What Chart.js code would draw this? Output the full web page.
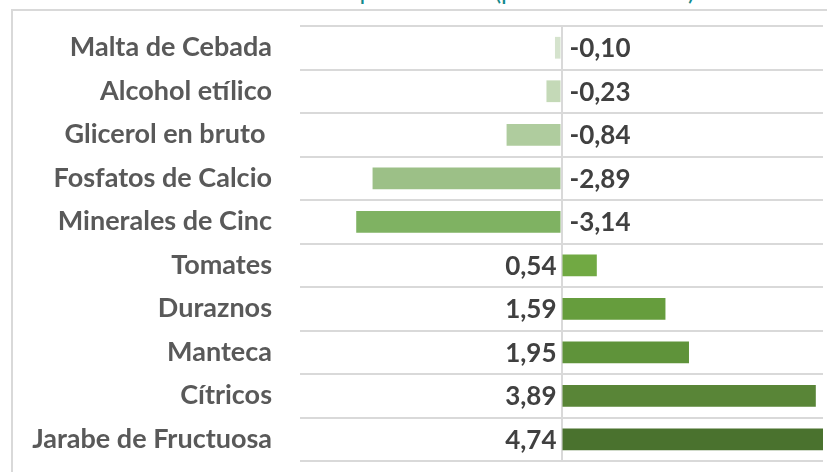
<!DOCTYPE html>
<html>
<head>
<meta charset="utf-8">
<script src="https://cdn.jsdelivr.net/npm/chart.js@4/dist/chart.umd.min.js"></script>
<style>
  html, body { margin:0; padding:0; width:827px; height:472px; overflow:hidden; background:#fff; }
  #frame { position:absolute; left:11px; top:9px; width:900px; height:520px; border:2px solid #d9d9d9; box-sizing:border-box; }
  #title { position:absolute; left:0; width:852px; top:-25px; text-align:center; font-family:Lato, sans-serif; font-size:25px; line-height:30px; color:#138a8c; white-space:nowrap; }
  #wrap { position:absolute; left:0; top:0; width:827px; height:472px; }
</style>
</head>
<body>
<div id="title">Variación de las exportaciones (período de enero)</div>
<div id="frame"></div>
<div id="wrap"><canvas id="c" width="827" height="472"></canvas></div>
<script>
const categories = ["Malta de Cebada","Alcohol etílico","Glicerol en bruto ","Fosfatos de Calcio","Minerales de Cinc","Tomates","Duraznos","Manteca","Cítricos","Jarabe de Fructuosa"];
const values = [-0.10, -0.23, -0.84, -2.89, -3.14, 0.54, 1.59, 1.95, 3.89, 4.74];
const barColors = ["#d5e3cd","#c4d9b7","#afcc9e","#9cc087","#7fb262","#71a943","#669d3d","#5f933a","#598537","#4a722e"];
const axisMin = -4, axisMax = 4;

const labelFont = "bold 26px Lato, sans-serif";

const dataLabels = {
  id: 'dataLabels',
  afterDatasetsDraw(chart) {
    const ctx = chart.ctx;
    const meta = chart.getDatasetMeta(0);
    const x0 = chart.scales.x.getPixelForValue(0);
    ctx.save();
    ctx.font = labelFont;
    ctx.fillStyle = "#404040";
    ctx.textBaseline = "middle";
    meta.data.forEach((bar, i) => {
      const v = values[i];
      const txt = v.toFixed(2).replace('.', ',');
      if (v < 0) { ctx.textAlign = "left"; ctx.fillText(txt, x0 + 8, bar.y + 1); }
      else { ctx.textAlign = "right"; ctx.fillText(txt, x0 - 5, bar.y + 1); }
    });
    ctx.restore();
  }
};

new Chart(document.getElementById('c'), {
  type: 'bar',
  data: {
    labels: categories,
    datasets: [{ data: values, backgroundColor: barColors, borderWidth: 0, barPercentage: 0.5, categoryPercentage: 1.0 }]
  },
  options: {
    indexAxis: 'y',
    responsive: false,
    animation: false,
    devicePixelRatio: 1,
    layout: { padding: { top: 26, bottom: 11, left: 0, right: 4 } },
    plugins: { legend: { display: false }, tooltip: { enabled: false }, title: { display: false } },
    scales: {
      x: {
        min: axisMin, max: axisMax,
        ticks: { display: false },
        border: { display: false },
        grid: { drawTicks: false, lineWidth: 2, color: (c) => (c.tick && c.tick.value === 0) ? '#d9d9d9' : 'rgba(0,0,0,0)' },
        afterFit(s) { s.height = 0; s.paddingLeft = 0; s.paddingRight = 0; s.paddingTop = 0; s.paddingBottom = 0; }
      },
      y: {
        ticks: { padding: 28, color: '#595959', font: { family: 'Lato, sans-serif', size: 27, weight: 'bold' } },
        border: { display: false },
        grid: { drawTicks: false, lineWidth: 2, color: '#d9d9d9', offset: true },
        afterFit(s) { s.width = 300; s.paddingTop = 0; s.paddingBottom = 0; s.paddingLeft = 0; s.paddingRight = 0; }
      }
    }
  },
  plugins: [dataLabels]
});
</script>
</body>
</html>
